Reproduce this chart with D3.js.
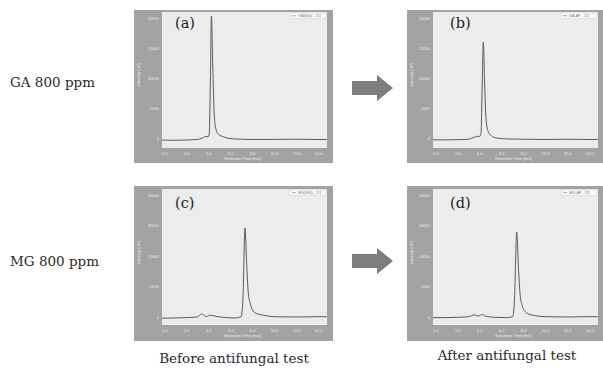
<!DOCTYPE html>
<html>
<head>
<meta charset="utf-8">
<script src="https://cdn.jsdelivr.net/npm/d3@7"></script>
<style>
  body { margin: 0; background: #fff; }
  svg { display: block; }
  .tick text { font-family: "Liberation Sans", Arial, sans-serif; }
</style>
</head>
<body>
<div id="chart"></div>
<script>
// chromatograms: [retention time (min), intensity (uV)]
const seriesA = [[-0.2, -350], [1, -380], [2, -330], [3, -250], [3.5, 0], [3.8, 250], [4.0, 200], [4.1, 700],
  [4.2, 9000], [4.3, 20300], [4.42, 12000], [4.55, 4000], [4.7, 1500], [4.95, 600], [5.4, 200], [6, -100],
  [7, -200], [8, -250], [10, -230], [12, -200], [14, -250], [14.8, -250]];
const seriesB = [[-0.2, -300], [1, -320], [2, -280], [3, -200], [3.6, 150], [3.9, 300], [4.05, 250], [4.17, 800],
  [4.28, 9000], [4.38, 16000], [4.5, 9000], [4.63, 3200], [4.82, 1100], [5.1, 400], [5.6, 0], [6.5, -150],
  [8, -200], [10, -250], [12, -200], [14, -250], [14.8, -250]];
const seriesC = [[-0.2, -200], [1, -150], [2, -100], [3, 0], [3.4, 500], [3.7, 200], [3.85, 50], [4.15, 300],
  [4.6, 150], [5.3, -50], [6.5, -150], [7.0, 50], [7.17, 3000], [7.35, 14600], [7.5, 9000], [7.65, 4000],
  [7.82, 2300], [8.25, 700], [9, 300], [10, 50], [12, 0], [14, 50], [14.8, 50]];
const seriesD = [[-0.2, -100], [1, -100], [2, -50], [3, 50], [3.6, 350], [3.9, 150], [4.3, 400], [4.6, 100],
  [5.5, -50], [6.5, -100], [7.05, 50], [7.22, 3000], [7.42, 13900], [7.58, 8000], [7.73, 3700], [7.92, 1900],
  [8.3, 700], [9, 250], [10, 50], [12, 0], [14, 50], [14.8, 50]];

const panelLetters = ['(a)', '(b)', '(c)', '(d)'];
const legendLabels = ['GA(800) - 1/1', 'GA-AF - 1/1', 'MG(800) - 1/1', 'MG-AF - 1/1'];
const rowLabels = ['GA 800 ppm', 'MG 800 ppm'];
const columnLabels = ['Before antifungal test', 'After antifungal test'];
const xTicks = [0, 2, 4, 6, 8, 10, 12, 14];
const yTicks = [0, 5000, 10000, 15000, 20000];
const xTitle = 'Retention Time [min]';
const yTitle = 'Intensity [uV]';

const allSeries = [seriesA, seriesB, seriesC, seriesD];

// layout
const width = 603, height = 368;
const cols = [
  { fx0: 134, fx1: 333, px0: 162, px1: 327 },
  { fx0: 407, fx1: 606, px0: 433, px1: 598 }
];
const rows = [
  { fy0: 10, fy1: 163, py0: 12, py1: 148, zeroY: 138, topY: 18 },
  { fy0: 186, fy1: 341, py0: 189, py1: 325, zeroY: 317, topY: 195 }
];
const frameColor = '#a3a3a3';
const plotBg = '#ececec';
const lineColor = '#5a5a5a';
const tickText = '#eeeeee';
const serif = 'DejaVu Serif, Liberation Serif, serif';

const svg = d3.select('#chart').append('svg')
  .attr('width', width)
  .attr('height', height);

allSeries.forEach((data, i) => {
  const c = cols[i % 2];
  const r = rows[Math.floor(i / 2)];

  const x = d3.scaleLinear().domain([0, 14]).range([c.px0 + 2.2, c.px0 + 156]);
  const y = d3.scaleLinear().domain([0, 20000]).range([r.zeroY, r.topY]);

  const g = svg.append('g').attr('class', 'panel');

  // grey frame + plot area
  g.append('rect')
    .attr('x', c.fx0).attr('y', r.fy0)
    .attr('width', c.fx1 - c.fx0).attr('height', r.fy1 - r.fy0)
    .attr('fill', frameColor);
  g.append('rect')
    .attr('x', c.px0).attr('y', r.py0)
    .attr('width', c.px1 - c.px0).attr('height', r.py1 - r.py0)
    .attr('fill', plotBg);

  const clipId = 'clip' + i;
  g.append('clipPath').attr('id', clipId)
    .append('rect')
    .attr('x', c.px0).attr('y', r.py0)
    .attr('width', c.px1 - c.px0).attr('height', r.py1 - r.py0);

  // axes
  const xAxis = g.append('g')
    .attr('transform', `translate(0, ${r.py1})`)
    .call(d3.axisBottom(x).tickValues(xTicks).tickSize(0).tickPadding(4).tickFormat(d3.format('.1f')));
  const yAxis = g.append('g')
    .attr('transform', `translate(${c.px0}, 0)`)
    .call(d3.axisLeft(y).tickValues(yTicks).tickSize(0).tickPadding(3).tickFormat(d3.format('d')));
  [xAxis, yAxis].forEach(a => {
    a.select('.domain').remove();
    a.selectAll('text').attr('font-size', 4).attr('fill', tickText);
  });

  g.append('text')
    .attr('x', (c.px0 + c.px1) / 2 - 2)
    .attr('y', r.py1 + 11.5)
    .attr('text-anchor', 'middle')
    .attr('font-family', 'Liberation Sans, Arial, sans-serif')
    .attr('font-size', 4).attr('fill', tickText)
    .text(xTitle);
  g.append('text')
    .attr('transform', `translate(${c.fx0 + 6}, ${(r.py0 + r.zeroY) / 2}) rotate(-90)`)
    .attr('text-anchor', 'middle')
    .attr('font-family', 'Liberation Sans, Arial, sans-serif')
    .attr('font-size', 4).attr('fill', tickText)
    .text(yTitle);

  // chromatogram line
  const line = d3.line()
    .x(d => x(d[0]))
    .y(d => y(d[1]))
    .curve(d3.curveMonotoneX);
  g.append('path')
    .datum(data)
    .attr('clip-path', `url(#${clipId})`)
    .attr('d', line)
    .attr('fill', 'none')
    .attr('stroke', lineColor)
    .attr('stroke-width', 1);

  // legend box
  const lx = c.px1 - 37, ly = r.py0 + 1;
  g.append('rect')
    .attr('x', lx).attr('y', ly).attr('width', 36).attr('height', 5.5)
    .attr('fill', '#fafafa').attr('stroke', '#cfcfcf').attr('stroke-width', 0.5);
  g.append('line')
    .attr('x1', lx + 2).attr('x2', lx + 6).attr('y1', ly + 2.75).attr('y2', ly + 2.75)
    .attr('stroke', lineColor).attr('stroke-width', 0.5);
  g.append('text')
    .attr('x', lx + 8).attr('y', ly + 4.2)
    .attr('font-family', 'Liberation Sans, Arial, sans-serif')
    .attr('font-size', 3.8).attr('fill', '#777')
    .text(legendLabels[i]);

  // panel letter
  g.append('text')
    .attr('x', c.px0 + (i % 2 ? 17 : 13)).attr('y', r.py0 + (i < 2 ? 16 : 19))
    .attr('font-family', serif)
    .attr('font-size', 14.5)
    .attr('fill', '#222')
    .text(panelLetters[i]);
});

// row labels
const rowLabelY = [87, 266];
rowLabels.forEach((t, i) => {
  svg.append('text')
    .attr('x', 10).attr('y', rowLabelY[i])
    .attr('font-family', serif)
    .attr('font-size', 13.5).attr('fill', '#2a2a2a')
    .text(t);
});

// column labels
const colLabelPos = [[234, 363], [507, 360]];
columnLabels.forEach((t, i) => {
  svg.append('text')
    .attr('x', colLabelPos[i][0]).attr('y', colLabelPos[i][1])
    .attr('text-anchor', 'middle')
    .attr('font-family', serif)
    .attr('font-size', 13.5).attr('fill', '#2a2a2a')
    .text(t);
});

// block arrows between columns
const arrowShape = (x0, cy) => {
  const x1 = x0 + 25, x2 = x0 + 41;
  return `M${x0},${cy - 7} L${x1},${cy - 7} L${x1},${cy - 13} L${x2},${cy} L${x1},${cy + 13} L${x1},${cy + 7} L${x0},${cy + 7} Z`;
};
[88, 261].forEach(cy => {
  svg.append('path')
    .attr('d', arrowShape(352, cy))
    .attr('fill', '#7d7d7d');
});
</script>
</body>
</html>
